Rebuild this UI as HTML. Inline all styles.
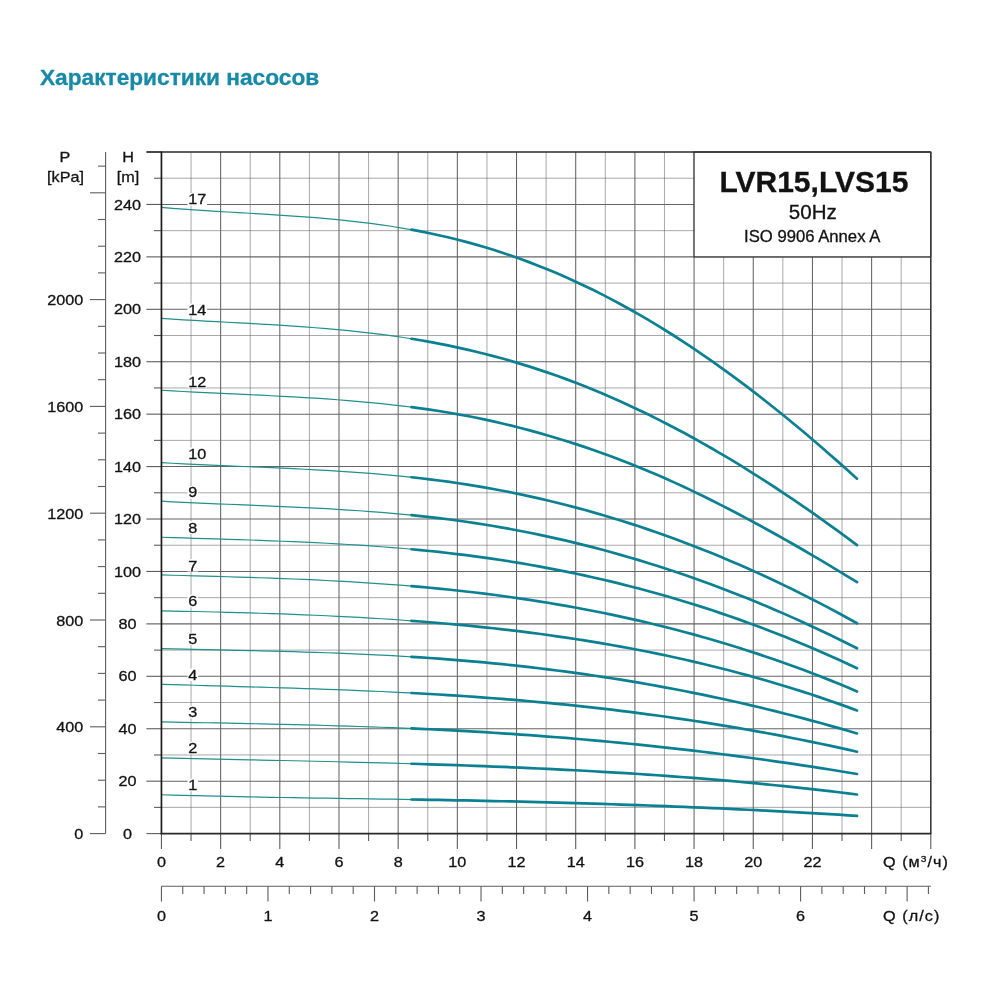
<!DOCTYPE html><html><head><meta charset="utf-8"><title>chart</title><style>html,body{margin:0;padding:0;background:#fff}body{width:1000px;height:1000px;overflow:hidden;font-family:"Liberation Sans",sans-serif}</style></head><body><svg width="1000" height="1000" viewBox="0 0 1000 1000" style="display:block">
<rect width="1000" height="1000" fill="#fff"/>
<g stroke="#626262" stroke-width="0.55" fill="none">
<line x1="191.04" y1="152.01" x2="191.04" y2="833.60"/>
<line x1="250.22" y1="152.01" x2="250.22" y2="833.60"/>
<line x1="309.40" y1="152.01" x2="309.40" y2="833.60"/>
<line x1="368.58" y1="152.01" x2="368.58" y2="833.60"/>
<line x1="427.76" y1="152.01" x2="427.76" y2="833.60"/>
<line x1="486.94" y1="152.01" x2="486.94" y2="833.60"/>
<line x1="546.12" y1="152.01" x2="546.12" y2="833.60"/>
<line x1="605.30" y1="152.01" x2="605.30" y2="833.60"/>
<line x1="664.48" y1="152.01" x2="664.48" y2="833.60"/>
<line x1="723.66" y1="152.01" x2="723.66" y2="833.60"/>
<line x1="782.84" y1="152.01" x2="782.84" y2="833.60"/>
<line x1="842.02" y1="152.01" x2="842.02" y2="833.60"/>
<line x1="901.20" y1="152.01" x2="901.20" y2="833.60"/>
<line x1="161.45" y1="807.38" x2="930.79" y2="807.38"/>
<line x1="161.45" y1="754.96" x2="930.79" y2="754.96"/>
<line x1="161.45" y1="702.52" x2="930.79" y2="702.52"/>
<line x1="161.45" y1="650.10" x2="930.79" y2="650.10"/>
<line x1="161.45" y1="597.66" x2="930.79" y2="597.66"/>
<line x1="161.45" y1="545.24" x2="930.79" y2="545.24"/>
<line x1="161.45" y1="492.81" x2="930.79" y2="492.81"/>
<line x1="161.45" y1="440.38" x2="930.79" y2="440.38"/>
<line x1="161.45" y1="387.94" x2="930.79" y2="387.94"/>
<line x1="161.45" y1="335.51" x2="930.79" y2="335.51"/>
<line x1="161.45" y1="283.09" x2="930.79" y2="283.09"/>
<line x1="161.45" y1="230.65" x2="930.79" y2="230.65"/>
<line x1="161.45" y1="178.23" x2="930.79" y2="178.23"/>
</g>
<g stroke="#646464" stroke-width="1.05" fill="none">
<line x1="220.63" y1="152.01" x2="220.63" y2="833.60"/>
<line x1="279.81" y1="152.01" x2="279.81" y2="833.60"/>
<line x1="338.99" y1="152.01" x2="338.99" y2="833.60"/>
<line x1="398.17" y1="152.01" x2="398.17" y2="833.60"/>
<line x1="457.35" y1="152.01" x2="457.35" y2="833.60"/>
<line x1="516.53" y1="152.01" x2="516.53" y2="833.60"/>
<line x1="575.71" y1="152.01" x2="575.71" y2="833.60"/>
<line x1="634.89" y1="152.01" x2="634.89" y2="833.60"/>
<line x1="694.07" y1="152.01" x2="694.07" y2="833.60"/>
<line x1="753.25" y1="152.01" x2="753.25" y2="833.60"/>
<line x1="812.43" y1="152.01" x2="812.43" y2="833.60"/>
<line x1="871.61" y1="152.01" x2="871.61" y2="833.60"/>
<line x1="161.45" y1="781.17" x2="930.79" y2="781.17"/>
<line x1="161.45" y1="728.74" x2="930.79" y2="728.74"/>
<line x1="161.45" y1="676.31" x2="930.79" y2="676.31"/>
<line x1="161.45" y1="623.88" x2="930.79" y2="623.88"/>
<line x1="161.45" y1="571.45" x2="930.79" y2="571.45"/>
<line x1="161.45" y1="519.02" x2="930.79" y2="519.02"/>
<line x1="161.45" y1="466.59" x2="930.79" y2="466.59"/>
<line x1="161.45" y1="414.16" x2="930.79" y2="414.16"/>
<line x1="161.45" y1="361.73" x2="930.79" y2="361.73"/>
<line x1="161.45" y1="309.30" x2="930.79" y2="309.30"/>
<line x1="161.45" y1="256.87" x2="930.79" y2="256.87"/>
<line x1="161.45" y1="204.44" x2="930.79" y2="204.44"/>
</g>
<g stroke="#5c5c5c" stroke-width="1.1" fill="none">
<line x1="146.4" y1="833.60" x2="161.45" y2="833.60"/>
<line x1="154" y1="807.38" x2="161.45" y2="807.38"/>
<line x1="146.4" y1="781.17" x2="161.45" y2="781.17"/>
<line x1="154" y1="754.96" x2="161.45" y2="754.96"/>
<line x1="146.4" y1="728.74" x2="161.45" y2="728.74"/>
<line x1="154" y1="702.52" x2="161.45" y2="702.52"/>
<line x1="146.4" y1="676.31" x2="161.45" y2="676.31"/>
<line x1="154" y1="650.10" x2="161.45" y2="650.10"/>
<line x1="146.4" y1="623.88" x2="161.45" y2="623.88"/>
<line x1="154" y1="597.66" x2="161.45" y2="597.66"/>
<line x1="146.4" y1="571.45" x2="161.45" y2="571.45"/>
<line x1="154" y1="545.24" x2="161.45" y2="545.24"/>
<line x1="146.4" y1="519.02" x2="161.45" y2="519.02"/>
<line x1="154" y1="492.81" x2="161.45" y2="492.81"/>
<line x1="146.4" y1="466.59" x2="161.45" y2="466.59"/>
<line x1="154" y1="440.38" x2="161.45" y2="440.38"/>
<line x1="146.4" y1="414.16" x2="161.45" y2="414.16"/>
<line x1="154" y1="387.94" x2="161.45" y2="387.94"/>
<line x1="146.4" y1="361.73" x2="161.45" y2="361.73"/>
<line x1="154" y1="335.51" x2="161.45" y2="335.51"/>
<line x1="146.4" y1="309.30" x2="161.45" y2="309.30"/>
<line x1="154" y1="283.09" x2="161.45" y2="283.09"/>
<line x1="146.4" y1="256.87" x2="161.45" y2="256.87"/>
<line x1="154" y1="230.65" x2="161.45" y2="230.65"/>
<line x1="146.4" y1="204.44" x2="161.45" y2="204.44"/>
<line x1="154" y1="178.23" x2="161.45" y2="178.23"/>
<line x1="146.4" y1="152.01" x2="161.45" y2="152.01"/>
<line x1="161.45" y1="833.60" x2="161.45" y2="849"/>
<line x1="191.04" y1="833.60" x2="191.04" y2="841"/>
<line x1="220.63" y1="833.60" x2="220.63" y2="849"/>
<line x1="250.22" y1="833.60" x2="250.22" y2="841"/>
<line x1="279.81" y1="833.60" x2="279.81" y2="849"/>
<line x1="309.40" y1="833.60" x2="309.40" y2="841"/>
<line x1="338.99" y1="833.60" x2="338.99" y2="849"/>
<line x1="368.58" y1="833.60" x2="368.58" y2="841"/>
<line x1="398.17" y1="833.60" x2="398.17" y2="849"/>
<line x1="427.76" y1="833.60" x2="427.76" y2="841"/>
<line x1="457.35" y1="833.60" x2="457.35" y2="849"/>
<line x1="486.94" y1="833.60" x2="486.94" y2="841"/>
<line x1="516.53" y1="833.60" x2="516.53" y2="849"/>
<line x1="546.12" y1="833.60" x2="546.12" y2="841"/>
<line x1="575.71" y1="833.60" x2="575.71" y2="849"/>
<line x1="605.30" y1="833.60" x2="605.30" y2="841"/>
<line x1="634.89" y1="833.60" x2="634.89" y2="849"/>
<line x1="664.48" y1="833.60" x2="664.48" y2="841"/>
<line x1="694.07" y1="833.60" x2="694.07" y2="849"/>
<line x1="723.66" y1="833.60" x2="723.66" y2="841"/>
<line x1="753.25" y1="833.60" x2="753.25" y2="849"/>
<line x1="782.84" y1="833.60" x2="782.84" y2="841"/>
<line x1="812.43" y1="833.60" x2="812.43" y2="849"/>
<line x1="842.02" y1="833.60" x2="842.02" y2="841"/>
<line x1="871.61" y1="833.60" x2="871.61" y2="849"/>
<line x1="901.20" y1="833.60" x2="901.20" y2="841"/>
<line x1="930.79" y1="833.60" x2="930.79" y2="849"/>
<line x1="105.6" y1="152.01" x2="105.6" y2="833.60"/>
<line x1="90" y1="833.60" x2="105.6" y2="833.60"/>
<line x1="98" y1="806.90" x2="105.6" y2="806.90"/>
<line x1="98" y1="780.20" x2="105.6" y2="780.20"/>
<line x1="98" y1="753.50" x2="105.6" y2="753.50"/>
<line x1="90" y1="726.80" x2="105.6" y2="726.80"/>
<line x1="98" y1="700.10" x2="105.6" y2="700.10"/>
<line x1="98" y1="673.40" x2="105.6" y2="673.40"/>
<line x1="98" y1="646.70" x2="105.6" y2="646.70"/>
<line x1="90" y1="620.00" x2="105.6" y2="620.00"/>
<line x1="98" y1="593.30" x2="105.6" y2="593.30"/>
<line x1="98" y1="566.60" x2="105.6" y2="566.60"/>
<line x1="98" y1="539.90" x2="105.6" y2="539.90"/>
<line x1="90" y1="513.20" x2="105.6" y2="513.20"/>
<line x1="98" y1="486.50" x2="105.6" y2="486.50"/>
<line x1="98" y1="459.80" x2="105.6" y2="459.80"/>
<line x1="98" y1="433.10" x2="105.6" y2="433.10"/>
<line x1="90" y1="406.40" x2="105.6" y2="406.40"/>
<line x1="98" y1="379.70" x2="105.6" y2="379.70"/>
<line x1="98" y1="353.00" x2="105.6" y2="353.00"/>
<line x1="98" y1="326.30" x2="105.6" y2="326.30"/>
<line x1="90" y1="299.60" x2="105.6" y2="299.60"/>
<line x1="98" y1="272.90" x2="105.6" y2="272.90"/>
<line x1="98" y1="246.20" x2="105.6" y2="246.20"/>
<line x1="98" y1="219.50" x2="105.6" y2="219.50"/>
<line x1="90" y1="192.80" x2="105.6" y2="192.80"/>
<line x1="98" y1="166.10" x2="105.6" y2="166.10"/>
<line x1="161.45" y1="886.2" x2="930.79" y2="886.2"/>
<line x1="161.45" y1="886.2" x2="161.45" y2="901.5"/>
<line x1="182.75" y1="886.2" x2="182.75" y2="894"/>
<line x1="204.06" y1="886.2" x2="204.06" y2="894"/>
<line x1="225.36" y1="886.2" x2="225.36" y2="894"/>
<line x1="246.67" y1="886.2" x2="246.67" y2="894"/>
<line x1="267.97" y1="886.2" x2="267.97" y2="901.5"/>
<line x1="289.28" y1="886.2" x2="289.28" y2="894"/>
<line x1="310.58" y1="886.2" x2="310.58" y2="894"/>
<line x1="331.89" y1="886.2" x2="331.89" y2="894"/>
<line x1="353.19" y1="886.2" x2="353.19" y2="894"/>
<line x1="374.50" y1="886.2" x2="374.50" y2="901.5"/>
<line x1="395.80" y1="886.2" x2="395.80" y2="894"/>
<line x1="417.11" y1="886.2" x2="417.11" y2="894"/>
<line x1="438.41" y1="886.2" x2="438.41" y2="894"/>
<line x1="459.72" y1="886.2" x2="459.72" y2="894"/>
<line x1="481.02" y1="886.2" x2="481.02" y2="901.5"/>
<line x1="502.33" y1="886.2" x2="502.33" y2="894"/>
<line x1="523.63" y1="886.2" x2="523.63" y2="894"/>
<line x1="544.94" y1="886.2" x2="544.94" y2="894"/>
<line x1="566.24" y1="886.2" x2="566.24" y2="894"/>
<line x1="587.55" y1="886.2" x2="587.55" y2="901.5"/>
<line x1="608.85" y1="886.2" x2="608.85" y2="894"/>
<line x1="630.16" y1="886.2" x2="630.16" y2="894"/>
<line x1="651.46" y1="886.2" x2="651.46" y2="894"/>
<line x1="672.77" y1="886.2" x2="672.77" y2="894"/>
<line x1="694.07" y1="886.2" x2="694.07" y2="901.5"/>
<line x1="715.37" y1="886.2" x2="715.37" y2="894"/>
<line x1="736.68" y1="886.2" x2="736.68" y2="894"/>
<line x1="757.98" y1="886.2" x2="757.98" y2="894"/>
<line x1="779.29" y1="886.2" x2="779.29" y2="894"/>
<line x1="800.59" y1="886.2" x2="800.59" y2="901.5"/>
<line x1="821.90" y1="886.2" x2="821.90" y2="894"/>
<line x1="843.20" y1="886.2" x2="843.20" y2="894"/>
<line x1="864.51" y1="886.2" x2="864.51" y2="894"/>
<line x1="885.81" y1="886.2" x2="885.81" y2="894"/>
<line x1="907.12" y1="886.2" x2="907.12" y2="901.5"/>
<line x1="928.42" y1="886.2" x2="928.42" y2="894"/>
</g>
<rect x="187.50" y="192.96" width="19.51" height="12.5" fill="#fff"/>
<rect x="187.50" y="303.55" width="19.51" height="12.5" fill="#fff"/>
<rect x="187.50" y="375.18" width="19.51" height="12.5" fill="#fff"/>
<rect x="187.50" y="447.50" width="19.51" height="12.5" fill="#fff"/>
<rect x="187.50" y="485.98" width="10.51" height="12.5" fill="#fff"/>
<rect x="187.50" y="521.47" width="10.51" height="12.5" fill="#fff"/>
<rect x="187.50" y="559.02" width="10.51" height="12.5" fill="#fff"/>
<rect x="187.50" y="594.75" width="10.51" height="12.5" fill="#fff"/>
<rect x="187.50" y="632.62" width="10.51" height="12.5" fill="#fff"/>
<rect x="187.50" y="668.47" width="10.51" height="12.5" fill="#fff"/>
<rect x="187.50" y="705.77" width="10.51" height="12.5" fill="#fff"/>
<rect x="187.50" y="741.86" width="10.51" height="12.5" fill="#fff"/>
<rect x="187.50" y="778.86" width="10.51" height="12.5" fill="#fff"/>
<g fill="none" stroke="#1f908c" stroke-width="1.2" stroke-linecap="butt">
<path d="M161.45,207.37 L172.45,208.28 L183.45,209.12 L194.45,209.89 L205.45,210.62 L216.45,211.31 L227.45,211.98 L238.45,212.63 L249.45,213.27 L260.45,213.93 L271.45,214.60 L282.45,215.30 L293.45,216.05 L304.45,216.84 L315.45,217.71 L326.45,218.64 L337.45,219.67 L348.45,220.79 L359.45,222.03 L370.45,223.38 L381.45,224.87 L392.44,226.50 L403.44,228.29 L414.44,230.24"/>
<path d="M161.45,318.44 L172.45,319.15 L183.45,319.81 L194.45,320.45 L205.45,321.06 L216.45,321.66 L227.45,322.25 L238.45,322.84 L249.45,323.45 L260.45,324.07 L271.45,324.72 L282.45,325.40 L293.45,326.12 L304.45,326.90 L315.45,327.73 L326.45,328.63 L337.45,329.61 L348.45,330.67 L359.45,331.82 L370.45,333.07 L381.45,334.43 L392.44,335.91 L403.44,337.51 L414.44,339.24"/>
<path d="M161.45,390.23 L172.45,390.88 L183.45,391.48 L194.45,392.05 L205.45,392.60 L216.45,393.12 L227.45,393.64 L238.45,394.15 L249.45,394.67 L260.45,395.19 L271.45,395.74 L282.45,396.30 L293.45,396.90 L304.45,397.54 L315.45,398.22 L326.45,398.95 L337.45,399.74 L348.45,400.60 L359.45,401.53 L370.45,402.54 L381.45,403.64 L392.44,404.83 L403.44,406.12 L414.44,407.52"/>
<path d="M161.45,462.64 L172.45,463.25 L183.45,463.82 L194.45,464.36 L205.45,464.87 L216.45,465.36 L227.45,465.84 L238.45,466.30 L249.45,466.77 L260.45,467.23 L271.45,467.71 L282.45,468.20 L293.45,468.72 L304.45,469.26 L315.45,469.84 L326.45,470.45 L337.45,471.11 L348.45,471.83 L359.45,472.60 L370.45,473.44 L381.45,474.35 L392.44,475.34 L403.44,476.41 L414.44,477.57"/>
<path d="M161.45,501.21 L172.45,501.79 L183.45,502.33 L194.45,502.84 L205.45,503.33 L216.45,503.80 L227.45,504.26 L238.45,504.71 L249.45,505.16 L260.45,505.61 L271.45,506.07 L282.45,506.55 L293.45,507.05 L304.45,507.57 L315.45,508.13 L326.45,508.72 L337.45,509.35 L348.45,510.03 L359.45,510.77 L370.45,511.56 L381.45,512.42 L392.44,513.35 L403.44,514.35 L414.44,515.43"/>
<path d="M161.45,537.23 L172.45,537.59 L183.45,537.94 L194.45,538.28 L205.45,538.62 L216.45,538.96 L227.45,539.30 L238.45,539.66 L249.45,540.02 L260.45,540.41 L271.45,540.81 L282.45,541.24 L293.45,541.69 L304.45,542.17 L315.45,542.69 L326.45,543.25 L337.45,543.84 L348.45,544.49 L359.45,545.18 L370.45,545.93 L381.45,546.73 L392.44,547.59 L403.44,548.51 L414.44,549.51"/>
<path d="M161.45,574.94 L172.45,575.23 L183.45,575.52 L194.45,575.81 L205.45,576.10 L216.45,576.41 L227.45,576.73 L238.45,577.06 L249.45,577.40 L260.45,577.77 L271.45,578.15 L282.45,578.57 L293.45,579.00 L304.45,579.47 L315.45,579.97 L326.45,580.51 L337.45,581.08 L348.45,581.70 L359.45,582.35 L370.45,583.05 L381.45,583.80 L392.44,584.61 L403.44,585.46 L414.44,586.37"/>
<path d="M161.45,610.86 L172.45,611.07 L183.45,611.29 L194.45,611.52 L205.45,611.76 L216.45,612.02 L227.45,612.30 L238.45,612.59 L249.45,612.90 L260.45,613.23 L271.45,613.58 L282.45,613.96 L293.45,614.37 L304.45,614.80 L315.45,615.26 L326.45,615.76 L337.45,616.29 L348.45,616.85 L359.45,617.44 L370.45,618.08 L381.45,618.76 L392.44,619.47 L403.44,620.23 L414.44,621.04"/>
<path d="M161.45,648.72 L172.45,648.95 L183.45,649.17 L194.45,649.39 L205.45,649.62 L216.45,649.84 L227.45,650.07 L238.45,650.31 L249.45,650.56 L260.45,650.82 L271.45,651.10 L282.45,651.39 L293.45,651.70 L304.45,652.03 L315.45,652.38 L326.45,652.76 L337.45,653.17 L348.45,653.61 L359.45,654.08 L370.45,654.59 L381.45,655.13 L392.44,655.72 L403.44,656.34 L414.44,657.01"/>
<path d="M161.45,684.29 L172.45,684.62 L183.45,684.95 L194.45,685.27 L205.45,685.59 L216.45,685.90 L227.45,686.21 L238.45,686.53 L249.45,686.85 L260.45,687.17 L271.45,687.50 L282.45,687.84 L293.45,688.18 L304.45,688.54 L315.45,688.91 L326.45,689.30 L337.45,689.71 L348.45,690.13 L359.45,690.57 L370.45,691.04 L381.45,691.52 L392.44,692.04 L403.44,692.58 L414.44,693.15"/>
<path d="M161.45,721.89 L172.45,722.11 L183.45,722.32 L194.45,722.54 L205.45,722.75 L216.45,722.96 L227.45,723.18 L238.45,723.40 L249.45,723.63 L260.45,723.87 L271.45,724.11 L282.45,724.36 L293.45,724.63 L304.45,724.90 L315.45,725.19 L326.45,725.49 L337.45,725.81 L348.45,726.14 L359.45,726.50 L370.45,726.87 L381.45,727.26 L392.44,727.68 L403.44,728.12 L414.44,728.58"/>
<path d="M161.45,757.90 L172.45,758.15 L183.45,758.39 L194.45,758.63 L205.45,758.87 L216.45,759.10 L227.45,759.34 L238.45,759.57 L249.45,759.81 L260.45,760.04 L271.45,760.28 L282.45,760.52 L293.45,760.76 L304.45,761.01 L315.45,761.26 L326.45,761.51 L337.45,761.77 L348.45,762.04 L359.45,762.32 L370.45,762.60 L381.45,762.89 L392.44,763.19 L403.44,763.51 L414.44,763.83"/>
<path d="M161.45,794.74 L172.45,795.06 L183.45,795.36 L194.45,795.65 L205.45,795.92 L216.45,796.18 L227.45,796.43 L238.45,796.66 L249.45,796.88 L260.45,797.09 L271.45,797.29 L282.45,797.49 L293.45,797.67 L304.45,797.85 L315.45,798.03 L326.45,798.20 L337.45,798.37 L348.45,798.54 L359.45,798.70 L370.45,798.87 L381.45,799.04 L392.44,799.21 L403.44,799.38 L414.44,799.56"/>
</g>
<g fill="none" stroke="#0b8092" stroke-width="2.7" stroke-linecap="round">
<path d="M411.49,229.70 L420.58,231.41 L429.67,233.24 L438.76,235.21 L447.86,237.30 L456.95,239.54 L466.04,241.90 L475.13,244.41 L484.23,247.05 L493.32,249.83 L502.41,252.76 L511.50,255.83 L520.60,259.04 L529.69,262.39 L538.78,265.90 L547.87,269.55 L556.97,273.35 L566.06,277.30 L575.15,281.41 L584.24,285.67 L593.34,290.08 L602.43,294.64 L611.52,299.36 L620.61,304.22 L629.71,309.24 L638.80,314.40 L647.89,319.70 L656.99,325.16 L666.08,330.75 L675.17,336.49 L684.26,342.38 L693.36,348.40 L702.45,354.56 L711.54,360.86 L720.63,367.30 L729.73,373.88 L738.82,380.59 L747.91,387.43 L757.00,394.40 L766.10,401.50 L775.19,408.71 L784.28,416.05 L793.37,423.50 L802.47,431.06 L811.56,438.73 L820.65,446.51 L829.74,454.40 L838.84,462.38 L847.93,470.46 L857.02,478.63"/>
<path d="M411.49,338.76 L420.58,340.27 L429.67,341.88 L438.76,343.59 L447.86,345.40 L456.95,347.32 L466.04,349.35 L475.13,351.48 L484.23,353.73 L493.32,356.09 L502.41,358.56 L511.50,361.14 L520.60,363.84 L529.69,366.66 L538.78,369.60 L547.87,372.65 L556.97,375.83 L566.06,379.13 L575.15,382.55 L584.24,386.10 L593.34,389.77 L602.43,393.57 L611.52,397.48 L620.61,401.52 L629.71,405.68 L638.80,409.95 L647.89,414.34 L656.99,418.85 L666.08,423.48 L675.17,428.21 L684.26,433.06 L693.36,438.02 L702.45,443.10 L711.54,448.28 L720.63,453.56 L729.73,458.96 L738.82,464.46 L747.91,470.07 L757.00,475.78 L766.10,481.59 L775.19,487.50 L784.28,493.51 L793.37,499.63 L802.47,505.83 L811.56,512.14 L820.65,518.54 L829.74,525.04 L838.84,531.63 L847.93,538.31 L857.02,545.08"/>
<path d="M411.49,407.14 L420.58,408.36 L429.67,409.66 L438.76,411.04 L447.86,412.52 L456.95,414.09 L466.04,415.75 L475.13,417.52 L484.23,419.39 L493.32,421.37 L502.41,423.46 L511.50,425.66 L520.60,427.96 L529.69,430.37 L538.78,432.87 L547.87,435.47 L556.97,438.17 L566.06,440.97 L575.15,443.87 L584.24,446.87 L593.34,449.98 L602.43,453.19 L611.52,456.51 L620.61,459.94 L629.71,463.49 L638.80,467.15 L647.89,470.92 L656.99,474.80 L666.08,478.80 L675.17,482.89 L684.26,487.09 L693.36,491.39 L702.45,495.78 L711.54,500.27 L720.63,504.84 L729.73,509.50 L738.82,514.25 L747.91,519.07 L757.00,523.97 L766.10,528.95 L775.19,534.00 L784.28,539.11 L793.37,544.29 L802.47,549.53 L811.56,554.83 L820.65,560.18 L829.74,565.59 L838.84,571.05 L847.93,576.55 L857.02,582.09"/>
<path d="M411.49,477.24 L420.58,478.25 L429.67,479.33 L438.76,480.48 L447.86,481.70 L456.95,483.00 L466.04,484.38 L475.13,485.84 L484.23,487.38 L493.32,489.01 L502.41,490.72 L511.50,492.51 L520.60,494.38 L529.69,496.34 L538.78,498.38 L547.87,500.50 L556.97,502.71 L566.06,505.00 L575.15,507.37 L584.24,509.82 L593.34,512.37 L602.43,514.99 L611.52,517.70 L620.61,520.49 L629.71,523.37 L638.80,526.33 L647.89,529.38 L656.99,532.51 L666.08,535.73 L675.17,539.03 L684.26,542.42 L693.36,545.90 L702.45,549.46 L711.54,553.11 L720.63,556.84 L729.73,560.66 L738.82,564.56 L747.91,568.56 L757.00,572.64 L766.10,576.80 L775.19,581.06 L784.28,585.40 L793.37,589.83 L802.47,594.35 L811.56,598.95 L820.65,603.64 L829.74,608.43 L838.84,613.30 L847.93,618.25 L857.02,623.30"/>
<path d="M411.49,515.13 L420.58,516.07 L429.67,517.07 L438.76,518.14 L447.86,519.27 L456.95,520.48 L466.04,521.75 L475.13,523.10 L484.23,524.53 L493.32,526.02 L502.41,527.60 L511.50,529.24 L520.60,530.96 L529.69,532.76 L538.78,534.63 L547.87,536.57 L556.97,538.59 L566.06,540.68 L575.15,542.85 L584.24,545.10 L593.34,547.42 L602.43,549.81 L611.52,552.29 L620.61,554.84 L629.71,557.46 L638.80,560.16 L647.89,562.94 L656.99,565.79 L666.08,568.72 L675.17,571.73 L684.26,574.81 L693.36,577.98 L702.45,581.21 L711.54,584.53 L720.63,587.93 L729.73,591.40 L738.82,594.95 L747.91,598.58 L757.00,602.28 L766.10,606.07 L775.19,609.93 L784.28,613.87 L793.37,617.89 L802.47,621.99 L811.56,626.17 L820.65,630.43 L829.74,634.77 L838.84,639.19 L847.93,643.68 L857.02,648.26"/>
<path d="M411.49,549.23 L420.58,550.09 L429.67,551.00 L438.76,551.96 L447.86,552.97 L456.95,554.04 L466.04,555.17 L475.13,556.36 L484.23,557.60 L493.32,558.91 L502.41,560.28 L511.50,561.71 L520.60,563.20 L529.69,564.75 L538.78,566.37 L547.87,568.05 L556.97,569.80 L566.06,571.61 L575.15,573.49 L584.24,575.43 L593.34,577.45 L602.43,579.53 L611.52,581.68 L620.61,583.90 L629.71,586.19 L638.80,588.55 L647.89,590.98 L656.99,593.49 L666.08,596.07 L675.17,598.72 L684.26,601.44 L693.36,604.24 L702.45,607.12 L711.54,610.07 L720.63,613.10 L729.73,616.21 L738.82,619.39 L747.91,622.66 L757.00,626.00 L766.10,629.42 L775.19,632.93 L784.28,636.51 L793.37,640.18 L802.47,643.93 L811.56,647.77 L820.65,651.69 L829.74,655.69 L838.84,659.78 L847.93,663.95 L857.02,668.22"/>
<path d="M411.49,586.12 L420.58,586.90 L429.67,587.73 L438.76,588.60 L447.86,589.51 L456.95,590.47 L466.04,591.47 L475.13,592.52 L484.23,593.62 L493.32,594.78 L502.41,595.98 L511.50,597.23 L520.60,598.54 L529.69,599.90 L538.78,601.31 L547.87,602.78 L556.97,604.30 L566.06,605.88 L575.15,607.52 L584.24,609.21 L593.34,610.97 L602.43,612.78 L611.52,614.66 L620.61,616.59 L629.71,618.59 L638.80,620.66 L647.89,622.78 L656.99,624.98 L666.08,627.23 L675.17,629.56 L684.26,631.95 L693.36,634.41 L702.45,636.94 L711.54,639.54 L720.63,642.22 L729.73,644.96 L738.82,647.78 L747.91,650.67 L757.00,653.63 L766.10,656.67 L775.19,659.79 L784.28,662.98 L793.37,666.25 L802.47,669.60 L811.56,673.03 L820.65,676.54 L829.74,680.13 L838.84,683.80 L847.93,687.56 L857.02,691.40"/>
<path d="M411.49,620.82 L420.58,621.51 L429.67,622.23 L438.76,622.98 L447.86,623.77 L456.95,624.60 L466.04,625.46 L475.13,626.36 L484.23,627.30 L493.32,628.27 L502.41,629.29 L511.50,630.35 L520.60,631.45 L529.69,632.59 L538.78,633.78 L547.87,635.01 L556.97,636.29 L566.06,637.61 L575.15,638.98 L584.24,640.40 L593.34,641.87 L602.43,643.39 L611.52,644.97 L620.61,646.59 L629.71,648.27 L638.80,650.01 L647.89,651.79 L656.99,653.64 L666.08,655.54 L675.17,657.50 L684.26,659.52 L693.36,661.60 L702.45,663.75 L711.54,665.95 L720.63,668.22 L729.73,670.55 L738.82,672.95 L747.91,675.41 L757.00,677.94 L766.10,680.54 L775.19,683.20 L784.28,685.94 L793.37,688.75 L802.47,691.62 L811.56,694.58 L820.65,697.60 L829.74,700.70 L838.84,703.88 L847.93,707.13 L857.02,710.46"/>
<path d="M411.49,656.83 L420.58,657.40 L429.67,658.01 L438.76,658.66 L447.86,659.34 L456.95,660.05 L466.04,660.80 L475.13,661.60 L484.23,662.42 L493.32,663.29 L502.41,664.20 L511.50,665.14 L520.60,666.13 L529.69,667.16 L538.78,668.22 L547.87,669.33 L556.97,670.48 L566.06,671.66 L575.15,672.89 L584.24,674.17 L593.34,675.48 L602.43,676.84 L611.52,678.24 L620.61,679.68 L629.71,681.17 L638.80,682.70 L647.89,684.28 L656.99,685.90 L666.08,687.56 L675.17,689.27 L684.26,691.03 L693.36,692.83 L702.45,694.68 L711.54,696.57 L720.63,698.51 L729.73,700.50 L738.82,702.54 L747.91,704.62 L757.00,706.76 L766.10,708.94 L775.19,711.17 L784.28,713.45 L793.37,715.77 L802.47,718.15 L811.56,720.58 L820.65,723.06 L829.74,725.59 L838.84,728.17 L847.93,730.81 L857.02,733.49"/>
<path d="M411.49,692.99 L420.58,693.48 L429.67,693.99 L438.76,694.52 L447.86,695.07 L456.95,695.65 L466.04,696.26 L475.13,696.89 L484.23,697.54 L493.32,698.23 L502.41,698.94 L511.50,699.68 L520.60,700.44 L529.69,701.23 L538.78,702.06 L547.87,702.91 L556.97,703.79 L566.06,704.70 L575.15,705.64 L584.24,706.61 L593.34,707.61 L602.43,708.64 L611.52,709.71 L620.61,710.80 L629.71,711.93 L638.80,713.09 L647.89,714.29 L656.99,715.51 L666.08,716.77 L675.17,718.07 L684.26,719.40 L693.36,720.77 L702.45,722.17 L711.54,723.60 L720.63,725.07 L729.73,726.58 L738.82,728.13 L747.91,729.71 L757.00,731.33 L766.10,732.99 L775.19,734.69 L784.28,736.42 L793.37,738.20 L802.47,740.01 L811.56,741.86 L820.65,743.76 L829.74,745.69 L838.84,747.67 L847.93,749.69 L857.02,751.75"/>
<path d="M411.49,728.45 L420.58,728.85 L429.67,729.26 L438.76,729.70 L447.86,730.15 L456.95,730.62 L466.04,731.12 L475.13,731.63 L484.23,732.17 L493.32,732.73 L502.41,733.31 L511.50,733.91 L520.60,734.53 L529.69,735.18 L538.78,735.84 L547.87,736.53 L556.97,737.24 L566.06,737.97 L575.15,738.73 L584.24,739.51 L593.34,740.31 L602.43,741.13 L611.52,741.98 L620.61,742.85 L629.71,743.74 L638.80,744.66 L647.89,745.60 L656.99,746.56 L666.08,747.55 L675.17,748.56 L684.26,749.60 L693.36,750.66 L702.45,751.74 L711.54,752.85 L720.63,753.98 L729.73,755.14 L738.82,756.32 L747.91,757.53 L757.00,758.76 L766.10,760.02 L775.19,761.30 L784.28,762.61 L793.37,763.95 L802.47,765.31 L811.56,766.69 L820.65,768.10 L829.74,769.54 L838.84,771.00 L847.93,772.49 L857.02,774.01"/>
<path d="M411.49,763.74 L420.58,764.02 L429.67,764.30 L438.76,764.59 L447.86,764.89 L456.95,765.20 L466.04,765.52 L475.13,765.85 L484.23,766.19 L493.32,766.54 L502.41,766.90 L511.50,767.28 L520.60,767.66 L529.69,768.06 L538.78,768.48 L547.87,768.90 L556.97,769.35 L566.06,769.80 L575.15,770.27 L584.24,770.76 L593.34,771.26 L602.43,771.78 L611.52,772.31 L620.61,772.86 L629.71,773.43 L638.80,774.02 L647.89,774.62 L656.99,775.25 L666.08,775.89 L675.17,776.55 L684.26,777.23 L693.36,777.93 L702.45,778.66 L711.54,779.40 L720.63,780.16 L729.73,780.95 L738.82,781.76 L747.91,782.59 L757.00,783.44 L766.10,784.32 L775.19,785.23 L784.28,786.15 L793.37,787.10 L802.47,788.08 L811.56,789.08 L820.65,790.11 L829.74,791.16 L838.84,792.24 L847.93,793.35 L857.02,794.49"/>
<path d="M411.49,799.51 L420.58,799.66 L429.67,799.81 L438.76,799.97 L447.86,800.13 L456.95,800.30 L466.04,800.47 L475.13,800.65 L484.23,800.84 L493.32,801.04 L502.41,801.24 L511.50,801.45 L520.60,801.66 L529.69,801.88 L538.78,802.11 L547.87,802.35 L556.97,802.60 L566.06,802.85 L575.15,803.11 L584.24,803.38 L593.34,803.66 L602.43,803.94 L611.52,804.24 L620.61,804.54 L629.71,804.85 L638.80,805.17 L647.89,805.50 L656.99,805.84 L666.08,806.19 L675.17,806.54 L684.26,806.91 L693.36,807.29 L702.45,807.67 L711.54,808.07 L720.63,808.47 L729.73,808.89 L738.82,809.32 L747.91,809.75 L757.00,810.20 L766.10,810.66 L775.19,811.13 L784.28,811.60 L793.37,812.10 L802.47,812.60 L811.56,813.11 L820.65,813.63 L829.74,814.17 L838.84,814.72 L847.93,815.28 L857.02,815.85"/>
</g>
<rect x="694.07" y="152.01" width="236.72" height="104.86" fill="#fff" stroke="#2a2a2a" stroke-width="1.1"/>
<line x1="146.4" y1="152.01" x2="930.79" y2="152.01" stroke="#2a2a2a" stroke-width="1.5"/>
<line x1="930.79" y1="152.01" x2="930.79" y2="833.60" stroke="#3a3a3a" stroke-width="1.6"/>
<line x1="161.45" y1="151.41" x2="161.45" y2="834.30" stroke="#1c1c1c" stroke-width="1.7"/>
<line x1="160.65" y1="833.60" x2="931.39" y2="833.60" stroke="#2a2a2a" stroke-width="1.6"/>
<g font-family="'Liberation Sans', sans-serif" opacity="0.995">
<text transform="translate(188.20,204.46) scale(1.08,1)" font-size="15" font-weight="normal" text-anchor="start" fill="#111" stroke="#111" stroke-width="0.3">17</text>
<text transform="translate(188.20,315.05) scale(1.08,1)" font-size="15" font-weight="normal" text-anchor="start" fill="#111" stroke="#111" stroke-width="0.3">14</text>
<text transform="translate(188.20,386.68) scale(1.08,1)" font-size="15" font-weight="normal" text-anchor="start" fill="#111" stroke="#111" stroke-width="0.3">12</text>
<text transform="translate(188.20,459.00) scale(1.08,1)" font-size="15" font-weight="normal" text-anchor="start" fill="#111" stroke="#111" stroke-width="0.3">10</text>
<text transform="translate(188.20,497.48) scale(1.08,1)" font-size="15" font-weight="normal" text-anchor="start" fill="#111" stroke="#111" stroke-width="0.3">9</text>
<text transform="translate(188.20,532.97) scale(1.08,1)" font-size="15" font-weight="normal" text-anchor="start" fill="#111" stroke="#111" stroke-width="0.3">8</text>
<text transform="translate(188.20,570.52) scale(1.08,1)" font-size="15" font-weight="normal" text-anchor="start" fill="#111" stroke="#111" stroke-width="0.3">7</text>
<text transform="translate(188.20,606.25) scale(1.08,1)" font-size="15" font-weight="normal" text-anchor="start" fill="#111" stroke="#111" stroke-width="0.3">6</text>
<text transform="translate(188.20,644.12) scale(1.08,1)" font-size="15" font-weight="normal" text-anchor="start" fill="#111" stroke="#111" stroke-width="0.3">5</text>
<text transform="translate(188.20,679.97) scale(1.08,1)" font-size="15" font-weight="normal" text-anchor="start" fill="#111" stroke="#111" stroke-width="0.3">4</text>
<text transform="translate(188.20,717.27) scale(1.08,1)" font-size="15" font-weight="normal" text-anchor="start" fill="#111" stroke="#111" stroke-width="0.3">3</text>
<text transform="translate(188.20,753.36) scale(1.08,1)" font-size="15" font-weight="normal" text-anchor="start" fill="#111" stroke="#111" stroke-width="0.3">2</text>
<text transform="translate(188.20,790.36) scale(1.08,1)" font-size="15" font-weight="normal" text-anchor="start" fill="#111" stroke="#111" stroke-width="0.3">1</text>
<text transform="translate(127.60,838.70) scale(1.08,1)" font-size="15" font-weight="normal" text-anchor="middle" fill="#111" stroke="#111" stroke-width="0.3">0</text>
<text transform="translate(127.60,786.27) scale(1.08,1)" font-size="15" font-weight="normal" text-anchor="middle" fill="#111" stroke="#111" stroke-width="0.3">20</text>
<text transform="translate(127.60,733.84) scale(1.08,1)" font-size="15" font-weight="normal" text-anchor="middle" fill="#111" stroke="#111" stroke-width="0.3">40</text>
<text transform="translate(127.60,681.41) scale(1.08,1)" font-size="15" font-weight="normal" text-anchor="middle" fill="#111" stroke="#111" stroke-width="0.3">60</text>
<text transform="translate(127.60,628.98) scale(1.08,1)" font-size="15" font-weight="normal" text-anchor="middle" fill="#111" stroke="#111" stroke-width="0.3">80</text>
<text transform="translate(127.60,576.55) scale(1.08,1)" font-size="15" font-weight="normal" text-anchor="middle" fill="#111" stroke="#111" stroke-width="0.3">100</text>
<text transform="translate(127.60,524.12) scale(1.08,1)" font-size="15" font-weight="normal" text-anchor="middle" fill="#111" stroke="#111" stroke-width="0.3">120</text>
<text transform="translate(127.60,471.69) scale(1.08,1)" font-size="15" font-weight="normal" text-anchor="middle" fill="#111" stroke="#111" stroke-width="0.3">140</text>
<text transform="translate(127.60,419.26) scale(1.08,1)" font-size="15" font-weight="normal" text-anchor="middle" fill="#111" stroke="#111" stroke-width="0.3">160</text>
<text transform="translate(127.60,366.83) scale(1.08,1)" font-size="15" font-weight="normal" text-anchor="middle" fill="#111" stroke="#111" stroke-width="0.3">180</text>
<text transform="translate(127.60,314.40) scale(1.08,1)" font-size="15" font-weight="normal" text-anchor="middle" fill="#111" stroke="#111" stroke-width="0.3">200</text>
<text transform="translate(127.60,261.97) scale(1.08,1)" font-size="15" font-weight="normal" text-anchor="middle" fill="#111" stroke="#111" stroke-width="0.3">220</text>
<text transform="translate(127.60,209.54) scale(1.08,1)" font-size="15" font-weight="normal" text-anchor="middle" fill="#111" stroke="#111" stroke-width="0.3">240</text>
<text transform="translate(83.30,839.20) scale(1.08,1)" font-size="15" font-weight="normal" text-anchor="end" fill="#111" stroke="#111" stroke-width="0.3">0</text>
<text transform="translate(83.30,732.40) scale(1.08,1)" font-size="15" font-weight="normal" text-anchor="end" fill="#111" stroke="#111" stroke-width="0.3">400</text>
<text transform="translate(83.30,625.60) scale(1.08,1)" font-size="15" font-weight="normal" text-anchor="end" fill="#111" stroke="#111" stroke-width="0.3">800</text>
<text transform="translate(83.30,518.80) scale(1.08,1)" font-size="15" font-weight="normal" text-anchor="end" fill="#111" stroke="#111" stroke-width="0.3">1200</text>
<text transform="translate(83.30,412.00) scale(1.08,1)" font-size="15" font-weight="normal" text-anchor="end" fill="#111" stroke="#111" stroke-width="0.3">1600</text>
<text transform="translate(83.30,305.20) scale(1.08,1)" font-size="15" font-weight="normal" text-anchor="end" fill="#111" stroke="#111" stroke-width="0.3">2000</text>
<text transform="translate(161.45,867.00) scale(1.08,1)" font-size="15" font-weight="normal" text-anchor="middle" fill="#111" stroke="#111" stroke-width="0.3">0</text>
<text transform="translate(220.63,867.00) scale(1.08,1)" font-size="15" font-weight="normal" text-anchor="middle" fill="#111" stroke="#111" stroke-width="0.3">2</text>
<text transform="translate(279.81,867.00) scale(1.08,1)" font-size="15" font-weight="normal" text-anchor="middle" fill="#111" stroke="#111" stroke-width="0.3">4</text>
<text transform="translate(338.99,867.00) scale(1.08,1)" font-size="15" font-weight="normal" text-anchor="middle" fill="#111" stroke="#111" stroke-width="0.3">6</text>
<text transform="translate(398.17,867.00) scale(1.08,1)" font-size="15" font-weight="normal" text-anchor="middle" fill="#111" stroke="#111" stroke-width="0.3">8</text>
<text transform="translate(457.35,867.00) scale(1.08,1)" font-size="15" font-weight="normal" text-anchor="middle" fill="#111" stroke="#111" stroke-width="0.3">10</text>
<text transform="translate(516.53,867.00) scale(1.08,1)" font-size="15" font-weight="normal" text-anchor="middle" fill="#111" stroke="#111" stroke-width="0.3">12</text>
<text transform="translate(575.71,867.00) scale(1.08,1)" font-size="15" font-weight="normal" text-anchor="middle" fill="#111" stroke="#111" stroke-width="0.3">14</text>
<text transform="translate(634.89,867.00) scale(1.08,1)" font-size="15" font-weight="normal" text-anchor="middle" fill="#111" stroke="#111" stroke-width="0.3">16</text>
<text transform="translate(694.07,867.00) scale(1.08,1)" font-size="15" font-weight="normal" text-anchor="middle" fill="#111" stroke="#111" stroke-width="0.3">18</text>
<text transform="translate(753.25,867.00) scale(1.08,1)" font-size="15" font-weight="normal" text-anchor="middle" fill="#111" stroke="#111" stroke-width="0.3">20</text>
<text transform="translate(812.43,867.00) scale(1.08,1)" font-size="15" font-weight="normal" text-anchor="middle" fill="#111" stroke="#111" stroke-width="0.3">22</text>
<text transform="translate(161.45,920.60) scale(1.08,1)" font-size="15" font-weight="normal" text-anchor="middle" fill="#111" stroke="#111" stroke-width="0.3">0</text>
<text transform="translate(267.97,920.60) scale(1.08,1)" font-size="15" font-weight="normal" text-anchor="middle" fill="#111" stroke="#111" stroke-width="0.3">1</text>
<text transform="translate(374.50,920.60) scale(1.08,1)" font-size="15" font-weight="normal" text-anchor="middle" fill="#111" stroke="#111" stroke-width="0.3">2</text>
<text transform="translate(481.02,920.60) scale(1.08,1)" font-size="15" font-weight="normal" text-anchor="middle" fill="#111" stroke="#111" stroke-width="0.3">3</text>
<text transform="translate(587.55,920.60) scale(1.08,1)" font-size="15" font-weight="normal" text-anchor="middle" fill="#111" stroke="#111" stroke-width="0.3">4</text>
<text transform="translate(694.07,920.60) scale(1.08,1)" font-size="15" font-weight="normal" text-anchor="middle" fill="#111" stroke="#111" stroke-width="0.3">5</text>
<text transform="translate(800.59,920.60) scale(1.08,1)" font-size="15" font-weight="normal" text-anchor="middle" fill="#111" stroke="#111" stroke-width="0.3">6</text>
<text transform="translate(65.00,162.00) scale(1.08,1)" font-size="15" font-weight="normal" text-anchor="middle" fill="#111" stroke="#111" stroke-width="0.3">P</text>
<text transform="translate(65.50,181.60) scale(1.08,1)" font-size="15" font-weight="normal" text-anchor="middle" fill="#111" stroke="#111" stroke-width="0.3">[kPa]</text>
<text transform="translate(128.00,162.00) scale(1.08,1)" font-size="15" font-weight="normal" text-anchor="middle" fill="#111" stroke="#111" stroke-width="0.3">H</text>
<text transform="translate(128.00,181.60) scale(1.08,1)" font-size="15" font-weight="normal" text-anchor="middle" fill="#111" stroke="#111" stroke-width="0.3">[m]</text>
<text transform="translate(883.00,867.40) scale(1.08,1)" font-size="15" font-weight="normal" text-anchor="start" fill="#111" stroke="#111" stroke-width="0.3"><tspan letter-spacing="0.95">Q (м<tspan font-size="9.5" dy="-5">3</tspan><tspan dy="5">/ч)</tspan></tspan></text>
<text transform="translate(883.00,920.60) scale(1.08,1)" font-size="15" font-weight="normal" text-anchor="start" fill="#111" stroke="#111" stroke-width="0.3"><tspan letter-spacing="1.0">Q (л/с)</tspan></text>
<text transform="translate(813.90,191.60) scale(1.035,1)" font-size="29" font-weight="bold" text-anchor="middle" fill="#111" stroke="#111" stroke-width="0.3">LVR15,LVS15</text>
<text transform="translate(812.80,218.80) scale(1.026,1)" font-size="20" font-weight="normal" text-anchor="middle" fill="#111" stroke="#111" stroke-width="0.3">50Hz</text>
<text transform="translate(812.20,242.40) scale(1.042,1)" font-size="16" font-weight="normal" text-anchor="middle" fill="#111" stroke="#111" stroke-width="0.3">ISO 9906 Annex A</text>
<text transform="translate(40.00,84.70) scale(1.013,1)" font-size="22.4" font-weight="bold" text-anchor="start" fill="#1789a6" stroke="#1789a6" stroke-width="0.3">Характеристики насосов</text>
</g>
</svg></body></html>
